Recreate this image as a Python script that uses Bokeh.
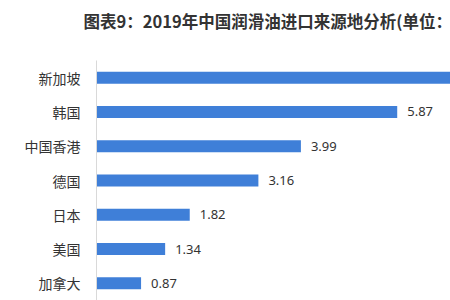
from bokeh.plotting import figure
from bokeh.models import ColumnDataSource, Range1d, FactorRange, Title
from bokeh.core.properties import value
from bokeh.embed import file_html
from bokeh.resources import INLINE

title_text = "图表9：2019年中国润滑油进口来源地分析(单位："
regions = ["新加坡", "韩国", "中国香港", "德国", "日本", "美国", "加拿大"]
values = [7.63, 5.87, 3.99, 3.16, 1.82, 1.34, 0.87]
labels = ["", "5.87", "3.99", "3.16", "1.82", "1.34", "0.87"]

src = ColumnDataSource(dict(region=regions, val=values, lab=labels))

p = figure(width=450, height=300, output_backend="svg", toolbar_location=None,
           y_range=FactorRange(*reversed(regions), range_padding=0),
           x_range=Range1d(0, 6.91),
           min_border_left=96, min_border_right=0, min_border_bottom=0, min_border_top=60,
           background_fill_color="white", border_fill_color="white")
p.outline_line_color = None
p.xgrid.visible = False
p.ygrid.visible = False
p.xaxis.visible = False

# spacer between the frame and the title
p.add_layout(Title(text=" ", text_font_size="4px", standoff=12), "above")

p.title.text = title_text
p.title.text_font = "Noto Sans CJK SC"
p.title.text_font_size = "16.5px"
p.title.text_font_style = "bold"
p.title.text_color = "#333333"
p.title.align = "left"
p.title.vertical_align = "top"
p.title.offset = -13
p.title.standoff = 14

p.hbar(y="region", right="val", left=0, height=0.35, source=src,
       color="#3F7FD8", line_color=None)
p.text(x="val", y="region", text="lab", source=src, x_offset=10,
       text_font=value("Noto Sans"), text_font_size="13px", text_color="#333333",
       text_baseline="middle", text_align="left")

ax = p.yaxis[0]
ax.axis_line_color = "#D9D9D9"
ax.axis_line_width = 1
ax.major_tick_line_color = None
ax.minor_tick_line_color = None
ax.major_label_text_font = "Noto Sans CJK SC"
ax.major_label_text_font_size = "14px"
ax.major_label_text_color = "#333333"
ax.major_label_standoff = 10

open("out.html", "w").write(file_html(p, INLINE))
